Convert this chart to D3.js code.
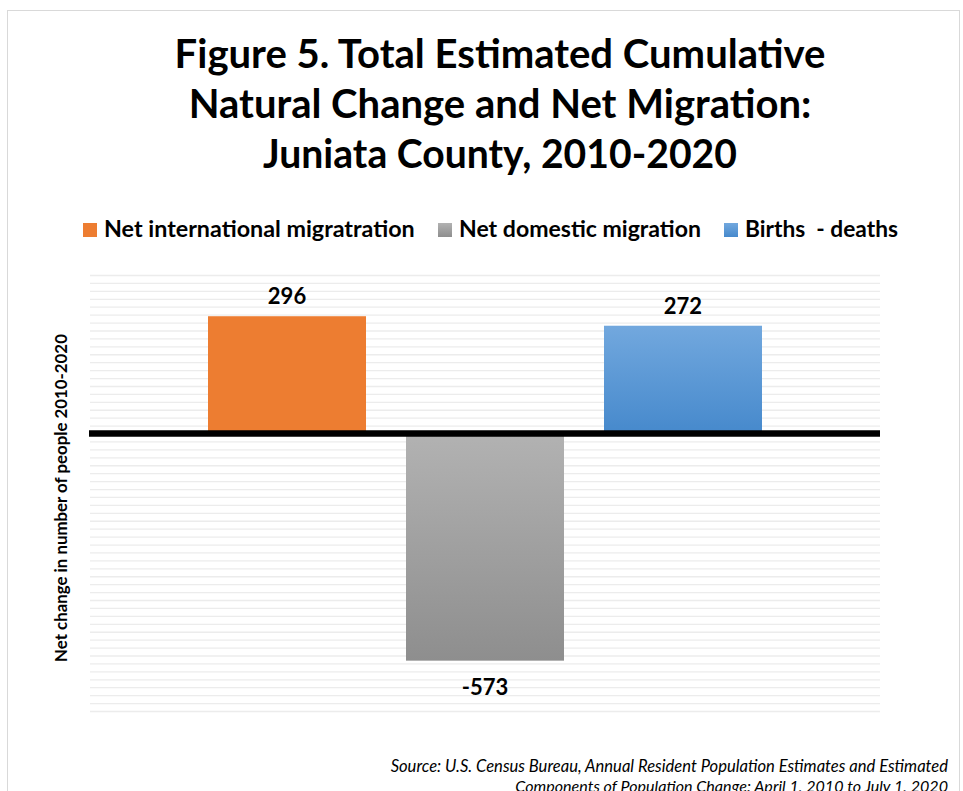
<!DOCTYPE html>
<html>
<head>
<meta charset="utf-8">
<script src="https://cdn.jsdelivr.net/npm/d3@7"></script>
<style>
  body { margin: 0; background: #fff; }
  svg { display: block; font-family: Lato, "Open Sans", sans-serif; }
  text { white-space: pre; }
</style>
</head>
<body>
<svg id="chart" width="963" height="791"></svg>
<script>
// data
const category = 'Juniata County'
const series = ['Net international migratration', 'Net domestic migration', 'Births  - deaths']
const values = [296, -573, 272]
const titleLines = [
  'Figure 5. Total Estimated Cumulative',
  'Natural Change and Net Migration:',
  'Juniata County, 2010-2020'
]
const sourceLines = [
  'Source: U.S. Census Bureau, Annual Resident Population Estimates and Estimated',
  'Components of Population Change: April 1, 2010 to July 1, 2020'
]
const yDomain = [-700, 400]
const gridStep = 20

const svg = d3.select('#chart')
const margin = { top: 275, right: 83, bottom: 80, left: 90 }
const W = 963, H = 791

// shrink or grow font so the text spans a given width
function fit(sel, width) {
  sel.each(function () {
    const len = this.getComputedTextLength()
    const fs = parseFloat(d3.select(this).attr('font-size'))
    d3.select(this).attr('font-size', fs * width / len)
  })
}

// outer frame
svg.append('rect')
  .attr('x', 7.5).attr('y', 10.5)
  .attr('width', 952).attr('height', 800)
  .attr('fill', '#fff').attr('stroke', '#d9d9d9')

const defs = svg.append('defs')
const grads = [
  ['#ED7D31', '#ED7D31'],
  ['#b2b2b2', '#8e8e8e'],
  ['#72a8de', '#4689cc']
]
grads.forEach((g, i) => {
  const lg = defs.append('linearGradient')
    .attr('id', 'grad' + i)
    .attr('x1', 0).attr('y1', 0).attr('x2', 0).attr('y2', 1)
  lg.append('stop').attr('offset', '0%').attr('stop-color', g[0])
  lg.append('stop').attr('offset', '100%').attr('stop-color', g[1])
})

// title
const titleWidths = [651, 623, 474]
const titleBase = [68, 118, 168]
svg.append('g').selectAll('text').data(titleLines).enter()
  .append('text')
  .attr('x', 500).attr('y', (d, i) => titleBase[i])
  .attr('text-anchor', 'middle')
  .attr('font-size', 40).attr('font-weight', 'bold')
  .attr('fill', '#000')
  .text(d => d)
  .each(function (d, i) { fit(d3.select(this), titleWidths[i]) })

// legend
const legX = [83, 438, 724]
const legW = [311, 242, 153]
const leg = svg.append('g')
series.forEach((s, i) => {
  leg.append('rect')
    .attr('x', legX[i]).attr('y', 223)
    .attr('width', 14).attr('height', 14)
    .attr('fill', `url(#grad${i})`)
  leg.append('text')
    .attr('x', legX[i] + 21).attr('y', 237)
    .attr('font-size', 21).attr('font-weight', 'bold')
    .attr('fill', '#000')
    .text(s)
    .call(fit, legW[i])
})

const y = d3.scaleLinear()
  .domain(yDomain)
  .range([H - margin.bottom, margin.top])

const x0 = d3.scaleBand()
  .domain([category])
  .range([margin.left, W - margin.right])

const x1 = d3.scaleBand()
  .domain(series)
  .range([x0(category), x0(category) + x0.bandwidth()])
  .paddingInner(0.202)
  .paddingOuter(0.596)

// faint gridlines
const grid = d3.range(yDomain[0], yDomain[1] + 1, gridStep)
svg.append('g')
  .call(d3.axisLeft(y).tickValues(grid).tickSize(-(W - margin.left - margin.right)).tickFormat(''))
  .attr('transform', `translate(${margin.left},0)`)
  .call(g => g.select('.domain').remove())
  .call(g => g.selectAll('line').attr('stroke', '#ececec').attr('stroke-width', 1.3))

// bars
svg.append('g').selectAll('rect')
  .data(values).enter()
  .append('rect')
  .attr('x', (d, i) => x1(series[i]))
  .attr('width', x1.bandwidth())
  .attr('y', d => y(Math.max(0, d)))
  .attr('height', d => Math.abs(y(d) - y(0)))
  .attr('fill', (d, i) => `url(#grad${i})`)

// zero line
svg.append('line')
  .attr('x1', margin.left - 1).attr('x2', W - margin.right)
  .attr('y1', y(0)).attr('y2', y(0))
  .attr('stroke', '#000').attr('stroke-width', 6.5)

// value labels
svg.append('g').selectAll('text')
  .data(values).enter()
  .append('text')
  .attr('x', (d, i) => x1(series[i]) + x1.bandwidth() / 2)
  .attr('y', d => d > 0 ? y(d) - 12 : y(d) + 34)
  .attr('text-anchor', 'middle')
  .attr('font-size', 22).attr('font-weight', 'bold')
  .text(d => d)

// y axis title
svg.append('text')
  .attr('transform', 'translate(67,498) rotate(-90)')
  .attr('text-anchor', 'middle')
  .attr('font-size', 15).attr('font-weight', 'bold')
  .text('Net change in number of people 2010-2020')
  .call(fit, 328)

// source note
svg.append('g').selectAll('text').data(sourceLines).enter()
  .append('text')
  .attr('x', 948).attr('y', (d, i) => 772 + i * 20)
  .attr('text-anchor', 'end')
  .attr('font-size', 15).attr('font-style', 'italic')
  .text(d => d)
  .each(function (d, i) { fit(d3.select(this), i === 0 ? 558 : 433) })
</script>
</body>
</html>
